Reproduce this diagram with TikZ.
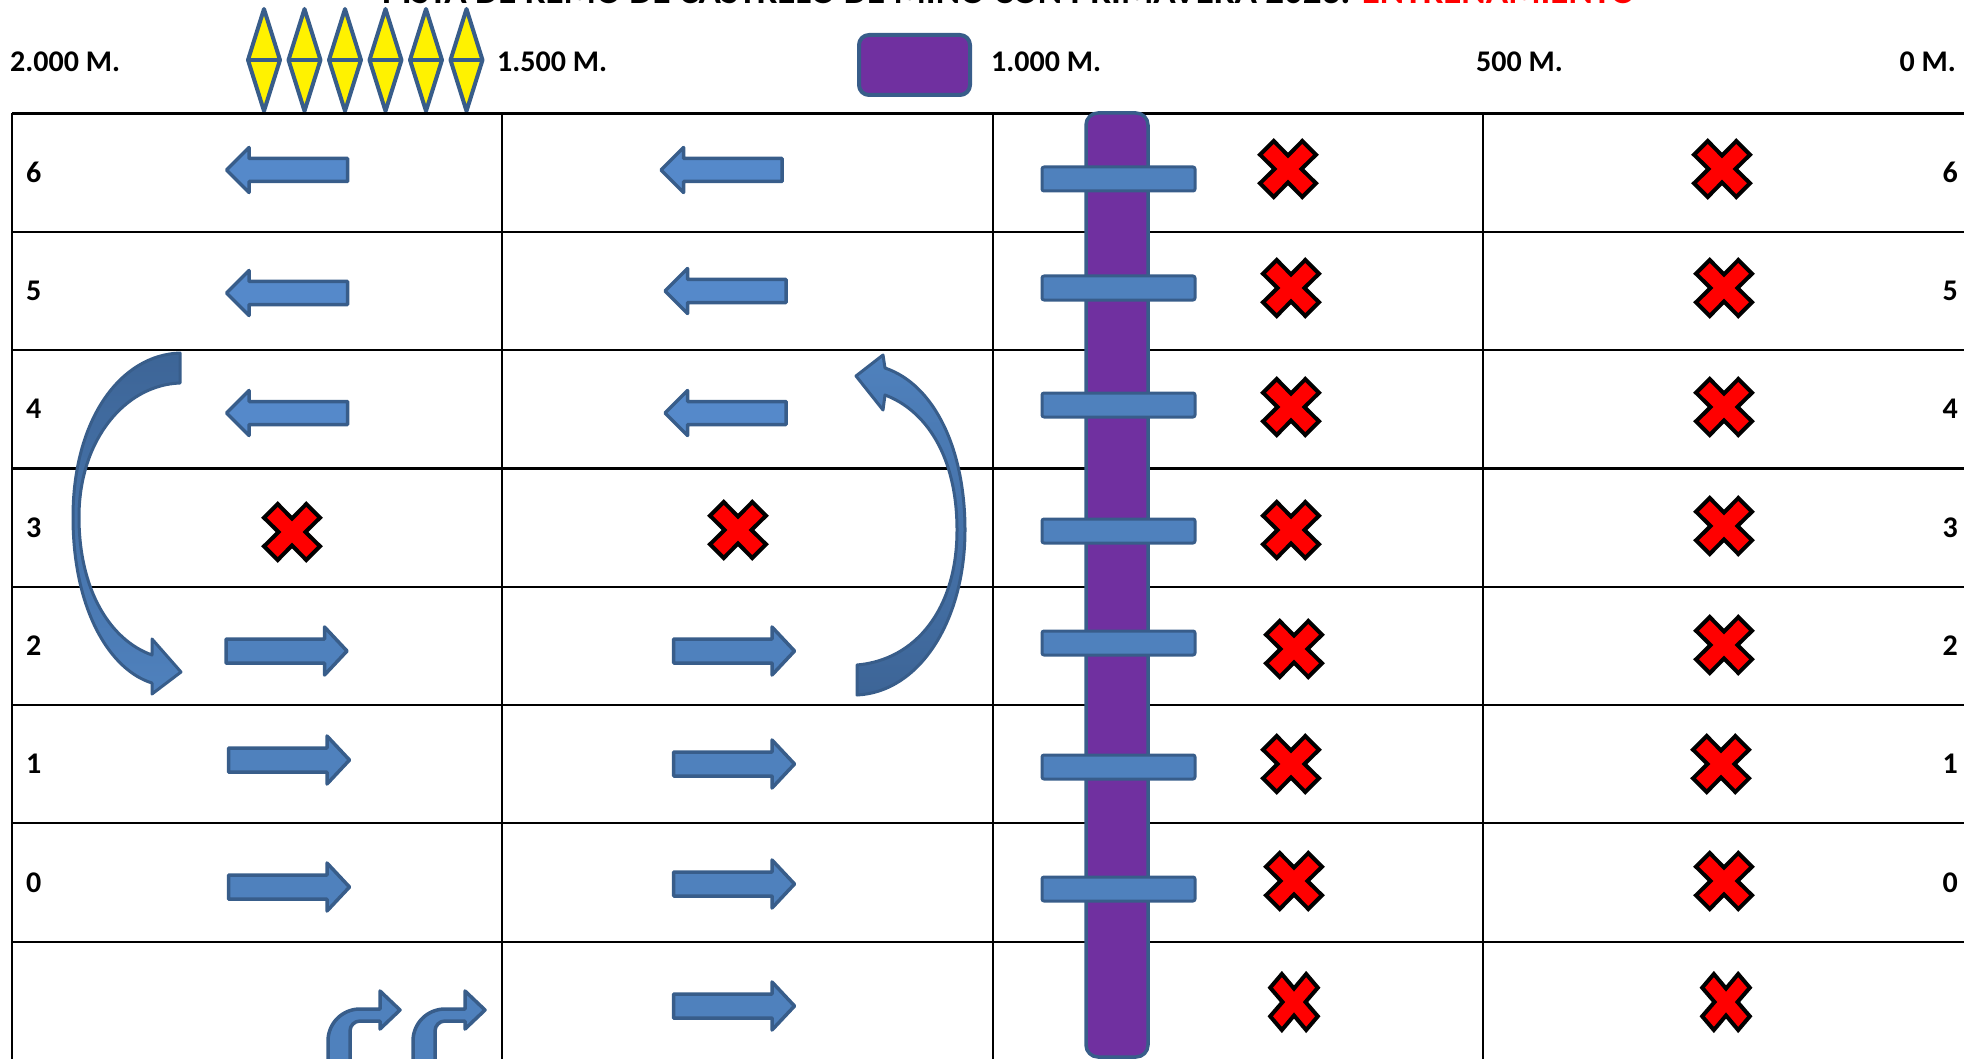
\documentclass[tikz,border=0pt]{standalone}
\usepackage{fontspec}
\setmainfont{Carlito}
\definecolor{shapeedge}{HTML}{385D8A}
\definecolor{arrowR}{HTML}{4F81BD}
\definecolor{arrowL}{HTML}{5589CA}
\definecolor{purp}{HTML}{7030A0}
\definecolor{darkblue}{HTML}{3D6597}
\begin{document}
\begin{tikzpicture}[x=1pt,y=-1pt,
  shp/.style={draw=shapeedge, line width=3.5pt, line join=round},
  grid/.style={draw=black, line width=2.2pt},
  hdr/.style={font=\fontsize{30}{30}\selectfont\bfseries, inner sep=0pt},
  rowlab/.style={font=\fontsize{30}{30}\selectfont\bfseries, inner sep=0pt},
  rarrow/.pic={\path[shp, fill=arrowR] (-60.5,-12) -- (38,-12) -- (38,-24) -- (60.5,0) -- (38,24) -- (38,12) -- (-60.5,12) -- cycle;},
  larrow/.pic={\path[shp, fill=arrowL] (60.5,-11.5) -- (-38,-11.5) -- (-38,-22.5) -- (-60.5,0) -- (-38,22.5) -- (-38,11.5) -- (60.5,11.5) -- cycle;},
  xmark/.pic={\path[draw=black, line width=4pt, line join=miter, fill=red]
     (13.5,0) -- (28,14.3) -- (14.3,28) -- (0,13.5) -- (-14.3,28) -- (-28,14.3) -- (-13.5,0)
     -- (-28,-14.3) -- (-14.3,-28) -- (0,-13.5) -- (14.3,-28) -- (28,-14.3) -- cycle;},
  diam/.pic={\path[shp, line width=4pt, fill=yellow] (0,-51) -- (16,0) -- (0,51) -- (-16,0) -- cycle;
     \draw[shapeedge, line width=4pt] (-16,0) -- (16,0);},
  crossbar/.pic={\path[shp, line width=3pt, fill=arrowR, rounded corners=2pt] (-76.5,-12) rectangle (76.5,12);},
  bentarrow/.pic={\path[shp, line width=3.5pt, fill=arrowR] (0,70) -- (0,31) .. controls (0,13.3) and (14.3,-1) .. (32,-1)
     -- (52,-1) -- (52,-19) -- (72,0) -- (52,19) -- (52,11) -- (32,11) .. controls (26.5,11) and (22,15.5) .. (22,21) -- (22,70) -- cycle;}
]
\useasboundingbox (0,0) rectangle (1964,1059);
\clip (0,0) rectangle (1964,1059);

% title (cut off at top, as in the reference)
\node[anchor=base west, inner sep=0pt, font=\fontsize{37}{37}\selectfont\bfseries] (title) at (382,3.5)
  {PISTA DE REMO DE CASTRELO DE MIÑO CON PRIMAVERA 2023: \textcolor{red}{ENTRENAMIENTO}};

% header labels
\node[hdr, anchor=base west] (h2000) at (10,72) {2.000 M.};
\node[hdr, anchor=base west] (h1500) at (497,72) {1.500 M.};
\node[hdr, anchor=base west] (h1000) at (991,72) {1.000 M.};
\node[hdr, anchor=base west] (h500) at (1476,72) {500 M.};
\node[hdr, anchor=base east] (h0) at (1956,72) {0 M.};

% yellow diamonds
\foreach \x in {264,304.5,345,385.5,426,466.5} { \pic at (\x,60) {diam}; }

% purple box in header
\draw[shp, line width=4pt, fill=purp, rounded corners=10pt] (859,35) rectangle (970,95);

% grid
\foreach \y in {113.5,231.8,350.1,468.4,586.7,705.0,823.3,941.6} { \draw[grid] (12,\y) -- (1964,\y); }
\foreach \x in {12,502.3,993.3,1483.1} { \draw[grid] (\x,113.5) -- (\x,1062); }

% row labels
\foreach \n/\y in {6/172.6,5/291,4/409.2,3/527.5,2/645.8,1/764.1,0/882.4} {
  \node[rowlab, anchor=west] (l\n) at (26,\y) {\n};
  \node[rowlab, anchor=east] (r\n) at (1958,\y) {\n};
}

% purple vertical bar with crossbars
\draw[shp, fill=purp, rounded corners=12pt] (1086,113) rectangle (1148,1057);
\foreach \y in {179,288,405,531,643,767,889} { \pic at (1118.5,\y) {crossbar}; }

% straight arrows
\pic at (287,170) {larrow};
\pic at (287,293) {larrow};
\pic at (287,413) {larrow};
\pic at (721.5,170) {larrow};
\pic at (725.5,291) {larrow};
\pic at (725.5,413) {larrow};
\pic at (286.5,651) {rarrow};
\pic at (289,760) {rarrow};
\pic at (289,887) {rarrow};
\pic at (734,651) {rarrow};
\pic at (734,764) {rarrow};
\pic at (734,884) {rarrow};
\pic at (734,1006) {rarrow};

% red crosses
\pic at (292,532) {xmark};
\pic at (738,530) {xmark};
\foreach \x/\y in {1288/169,1291/288,1291/407,1291/530,1294/649,1291/764,1294/881} { \pic at (\x,\y) {xmark}; }
\foreach \x/\y in {1722/169,1724/288,1724/407,1724/526,1724/645,1721/764,1724/881} { \pic at (\x,\y) {xmark}; }
\pic[xscale=0.85] at (1294,1002) {xmark};
\pic[xscale=0.85] at (1726,1002) {xmark};

% curved arrows
\draw[draw=shapeedge, line width=3pt, line join=round, top color=darkblue, bottom color=arrowR]
  (180,353) .. controls (120,355) and (73,420) .. (73,517) .. controls (73,610) and (110,670) .. (152,683)
  -- (152,694) -- (181,672) -- (152,639) -- (152,655)
  .. controls (110,640) and (79,590) .. (79,517) .. controls (79,440) and (125,385) .. (180,383) -- cycle;
\draw[draw=shapeedge, line width=3pt, line join=round, top color=arrowR, bottom color=darkblue]
  (857,665) .. controls (915,660) and (957,610) .. (957,530) .. controls (957,455) and (925,410) .. (885,395)
  -- (883,410) -- (856,376) -- (883,355) -- (885,368)
  .. controls (935,385) and (965,450) .. (965,530) .. controls (965,620) and (920,692) .. (857,695) -- cycle;

% bent arrows at the bottom
\pic at (328,1010) {bentarrow};
\pic at (413,1010) {bentarrow};
\end{tikzpicture}
\end{document}
